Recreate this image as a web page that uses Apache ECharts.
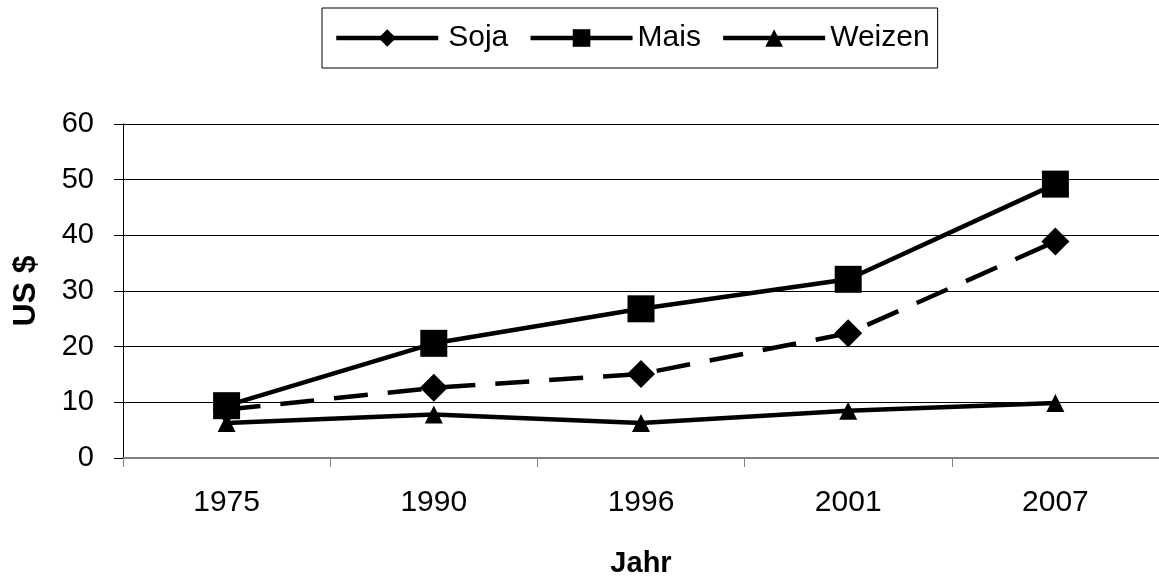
<!DOCTYPE html>
<html><head><meta charset="utf-8">
<script src="https://cdn.jsdelivr.net/npm/echarts@6/dist/echarts.min.js"></script>
<style>html,body{margin:0;padding:0;background:#fff}#c{width:1159px;height:583px}</style>
</head><body><div id="c"></div>
<script>
const years = ['1975','1990','1996','2001','2007'];
const soja = [8.7, 12.6, 15.1, 22.4, 38.9];
const mais = [9.4, 20.6, 26.8, 32.1, 49.2];
const weizen = [6.3, 7.8, 6.3, 8.5, 9.9];
const yTicks = [0, 10, 20, 30, 40, 50, 60];

const font = 'Liberation Sans, Arial, sans-serif';
const chart = echarts.init(document.getElementById('c'));
chart.setOption({
  backgroundColor: '#fff',
  animation: false,
  legend: {
    left: 322, top: 8,
    padding: [15, 8, 15, 12],
    borderColor: '#000', borderWidth: 1,
    itemWidth: 102, itemHeight: 22, itemGap: 20,
    lineStyle: { width: 4.5, type: 'solid', color: '#000' },
    textStyle: { fontFamily: font, fontSize: 30, color: '#000' },
    data: [
      { name: 'Soja', textStyle: { padding: [0, 0, 0, 5] } },
      { name: 'Mais' },
      { name: 'Weizen' }
    ]
  },
  grid: { left: 123, right: -2, top: 124, bottom: 121, containLabel: false },
  xAxis: {
    type: 'category', data: years, boundaryGap: true,
    name: 'Jahr', nameLocation: 'middle', nameGap: 91,
    nameTextStyle: { fontFamily: font, fontSize: 29, fontWeight: 'bold', color: '#000' },
    axisLine: { lineStyle: { color: '#808080', width: 2 } },
    axisTick: { show: true, length: 9, lineStyle: { color: '#808080', width: 1 } },
    axisLabel: { fontFamily: font, fontSize: 30, color: '#000', margin: 30 },
    splitLine: { show: false }
  },
  yAxis: {
    type: 'value', min: 0, max: 60, interval: 10,
    name: 'US $', nameLocation: 'middle', nameGap: 81, nameRotate: 90,
    nameTextStyle: { fontFamily: font, fontSize: 32, fontWeight: 'bold', color: '#000' },
    axisLine: { show: true, lineStyle: { color: '#000', width: 1 } },
    axisTick: { show: true, length: 9, lineStyle: { color: '#000' } },
    axisLabel: { fontFamily: font, fontSize: 29, color: '#000', margin: 29,
      formatter: v => yTicks.includes(v) ? String(v) : '' },
    splitLine: { show: true, lineStyle: { color: '#000', width: 1 } }
  },
  series: [
    { name: 'Soja', type: 'line', data: soja, symbol: 'diamond', symbolSize: 28,
      lineStyle: { color: '#000', width: 4.5, type: [34, 20] },
      itemStyle: { color: '#000' }, z: 3 },
    { name: 'Mais', type: 'line', data: mais, symbol: 'rect', symbolSize: 27,
      lineStyle: { color: '#000', width: 4.5 },
      itemStyle: { color: '#000' }, z: 4 },
    { name: 'Weizen', type: 'line', data: weizen, symbol: 'triangle', symbolSize: 18,
      lineStyle: { color: '#000', width: 4.5 },
      itemStyle: { color: '#000' }, z: 2 }
  ]
});
</script>
</body></html>
